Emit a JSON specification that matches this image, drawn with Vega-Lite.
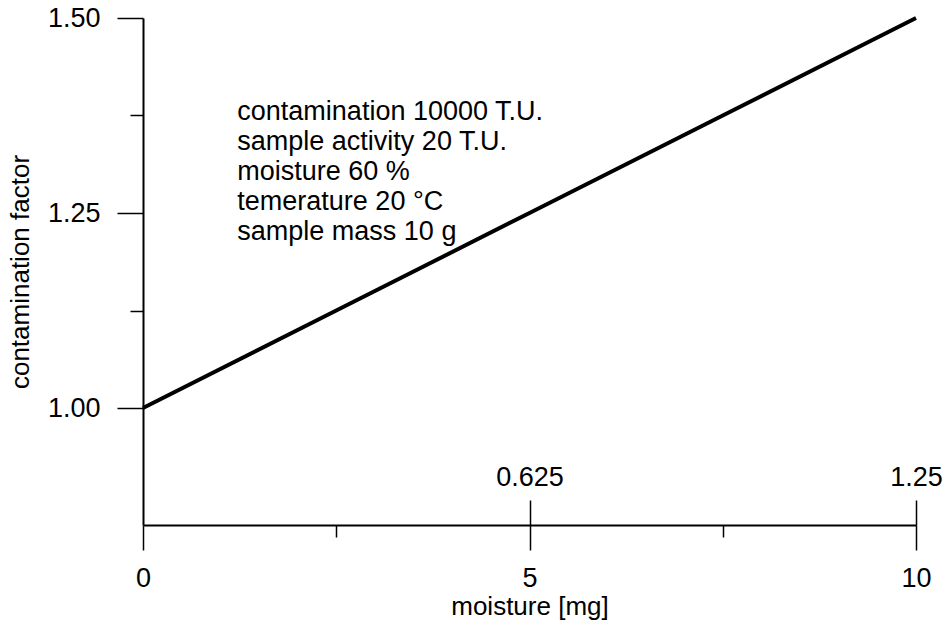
{
  "$schema": "https://vega.github.io/schema/vega-lite/v6.json",
  "width": 773,
  "height": 507,
  "autosize": "none",
  "padding": {"left": 143, "top": 18, "right": 28, "bottom": 105},
  "background": "white",
  "config": {
    "view": {"stroke": null},
    "font": "Liberation Sans",
    "axis": {
      "domainColor": "black",
      "tickColor": "black",
      "labelColor": "black",
      "titleColor": "black",
      "labelFont": "Liberation Sans",
      "titleFont": "Liberation Sans",
      "titleFontWeight": "normal",
      "grid": false,
      "labelFlush": false,
      "labelOverlap": false
    }
  },
  "datasets": {
    "curve": [
      {"moisture_mg": 0, "secondary": 0, "contamination_factor": 1.0},
      {"moisture_mg": 2.5, "secondary": 0.3125, "contamination_factor": 1.125},
      {"moisture_mg": 5, "secondary": 0.625, "contamination_factor": 1.25},
      {"moisture_mg": 7.5, "secondary": 0.9375, "contamination_factor": 1.375},
      {"moisture_mg": 10, "secondary": 1.25, "contamination_factor": 1.5}
    ],
    "notes": [
      {"note": ["contamination 10000 T.U.", "sample activity 20 T.U.", "moisture 60 %", "temerature 20 °C", "sample mass 10 g"]}
    ]
  },
  "layer": [
    {
      "layer": [
        {
          "data": {"name": "curve"},
          "mark": {"type": "line", "color": "black", "strokeWidth": 4},
          "encoding": {
            "x": {
              "field": "moisture_mg",
              "type": "quantitative",
              "scale": {"domain": [0, 10], "nice": false, "zero": false},
              "axis": {
                "orient": "bottom",
                "values": [0, 2.5, 5, 7.5, 10],
                "labelExpr": "datum.value % 5 == 0 ? format(datum.value, 'd') : ''",
                "tickSize": {"condition": {"test": "datum.value % 5 != 0", "value": 12}, "value": 25},
                "tickWidth": 1.5,
                "domainWidth": 2,
                "labelFontSize": 27,
                "labelPadding": 15,
                "title": "moisture [mg]",
                "titleFontSize": 26,
                "titlePadding": 2
              }
            },
            "y": {
              "field": "contamination_factor",
              "type": "quantitative",
              "scale": {"domain": [0.85, 1.5], "nice": false, "zero": false},
              "axis": {
                "values": [1, 1.125, 1.25, 1.375, 1.5],
                "labelExpr": "datum.value == 1.125 || datum.value == 1.375 ? '' : format(datum.value, '.2f')",
                "tickSize": {"condition": {"test": "datum.value == 1.125 || datum.value == 1.375", "value": 13}, "value": 26},
                "tickWidth": 1.5,
                "domainWidth": 2,
                "labelFontSize": 27,
                "labelPadding": 17,
                "title": "contamination factor",
                "titleFontSize": 26,
                "titlePadding": 14
              }
            }
          }
        },
        {
          "data": {"name": "notes"},
          "mark": {"type": "text", "align": "left", "baseline": "alphabetic", "fontSize": 27, "lineHeight": 30, "color": "black", "font": "Liberation Sans"},
          "encoding": {
            "x": {"datum": 1.22, "type": "quantitative"},
            "y": {"datum": 1.3692, "type": "quantitative"},
            "text": {"field": "note"}
          }
        }
      ]
    },
    {
      "data": {"name": "curve"},
      "mark": {"type": "line", "opacity": 0},
      "encoding": {
        "x": {
          "field": "secondary",
          "type": "quantitative",
          "scale": {"domain": [0, 1.25], "nice": false, "zero": false},
          "axis": {
            "orient": "top",
            "offset": -507,
            "values": [0.625, 1.25],
            "labelExpr": "format(datum.value, '.3~f')",
            "tickSize": 25,
            "tickWidth": 1.5,
            "domain": false,
            "labelFontSize": 27,
            "labelPadding": 9,
            "title": null
          }
        },
        "y": {"field": "contamination_factor", "type": "quantitative"}
      }
    }
  ],
  "resolve": {"scale": {"x": "independent"}}
}
